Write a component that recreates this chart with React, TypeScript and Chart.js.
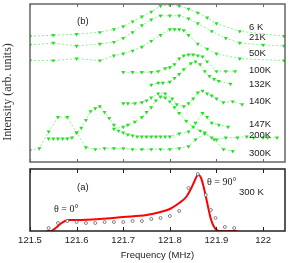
import React, { useEffect, useRef } from "react";
import { Chart, registerables } from "chart.js";

Chart.register(...registerables);

// ---------- axis ----------
const X_MIN = 121.5;
const X_MAX = 122.047;
const X_TICKS = [121.5, 121.6, 121.7, 121.8, 121.9, 122.0];
const X_TICK_LABELS = ["121.5", "121.6", "121.7", "121.8", "121.9", "122"];

// ---------- panel (b): spectra at several temperatures (offset, arb. units) ----------
const SERIES_NAMES = ["6 K", "21K", "50K", "100K", "132K", "140K", "147K", "200K", "300K"];

const F_6K = [121.50, 121.55, 121.60, 121.65, 121.68, 121.70, 121.72, 121.74, 121.76, 121.78, 121.80, 121.82, 121.84, 121.86, 121.88, 121.90, 121.95, 122.045];
const I_6K = [129, 130, 131, 133, 136, 139, 144, 149, 154, 160, 161, 160, 157, 153, 148, 142, 134, 129];

const F_21K = [121.50, 121.55, 121.60, 121.65, 121.68, 121.70, 121.72, 121.74, 121.76, 121.78, 121.80, 121.82, 121.84, 121.86, 121.89, 121.92, 121.95, 122.00, 122.045];
const I_21K = [120, 122, 119, 121, 123, 127, 133, 140, 146, 150, 150, 150, 147, 142, 134, 127, 122, 120, 119];

const F_50K = [121.50, 121.55, 121.60, 121.65, 121.68, 121.70, 121.72, 121.74, 121.76, 121.78, 121.80, 121.81, 121.82, 121.83, 121.84, 121.86, 121.88, 121.90, 121.95, 122.045];
const I_50K = [104, 104, 106, 104, 109, 111, 114, 118, 124, 130, 136, 136, 136, 135, 130, 121, 116, 111, 106, 104];

const F_100K = [121.70, 121.72, 121.74, 121.76, 121.775, 121.79, 121.80, 121.81, 121.82, 121.83, 121.84, 121.85, 121.86, 121.87, 121.88, 121.90, 121.92, 121.94];
const I_100K = [92, 92, 92, 92, 93, 96, 97, 100, 106, 109, 110, 110, 109, 108, 103, 93, 93, 93];

const F_132K = [121.76, 121.775, 121.785, 121.80, 121.81, 121.82, 121.83, 121.845, 121.855, 121.865, 121.875, 121.885, 121.895, 121.905, 121.93];
const I_132K = [79, 81, 81, 82, 86, 90, 95, 101, 103, 100, 93, 88, 85, 83, 80];

const F_140K = [121.70, 121.71, 121.725, 121.74, 121.75, 121.76, 121.775, 121.79, 121.805, 121.815, 121.83, 121.84, 121.85, 121.86, 121.87, 121.88, 121.89, 121.90, 121.915, 121.935, 121.955];
const I_140K = [60, 60, 60, 61, 63, 66, 70, 70, 65, 59, 57, 60, 65, 71, 73, 70, 68, 65, 61, 62, 59];

const F_147K = [121.54, 121.55, 121.56, 121.57, 121.58, 121.59, 121.60, 121.61, 121.62, 121.63, 121.64, 121.65, 121.66, 121.67, 121.68, 121.69, 121.70, 121.71, 121.72, 121.73, 121.74, 121.75, 121.76, 121.77, 121.78, 121.79, 121.80, 121.82, 121.84, 121.855, 121.87, 121.88, 121.89, 121.905, 121.925];
const I_147K = [24, 24, 24, 24, 24, 25, 30, 35, 43, 52, 55, 57, 51, 45, 38, 32, 30, 28, 27, 26, 26, 26, 26, 26, 26, 26, 26, 29, 31, 40, 50, 46, 40, 38, 36];

const F_200K = [121.68, 121.70, 121.71, 121.725, 121.74, 121.75, 121.76, 121.77, 121.78, 121.79, 121.80, 121.81, 121.82, 121.835, 121.85, 121.865, 121.875, 121.89, 121.90, 121.92, 121.945, 121.965, 121.98, 122.00, 122.01, 122.03];
const I_200K = [34, 36, 38, 41, 46, 51, 56, 63, 67, 66, 62, 56, 50, 42, 36, 32, 30, 25, 23, 25, 25, 26, 25, 25, 25, 25];

const F_300K = [121.50, 121.52, 121.54, 121.56, 121.58, 121.60, 121.62, 121.64, 121.66, 121.68, 121.70, 121.72, 121.74, 121.76, 121.78, 121.80, 121.82, 121.84, 121.855, 121.875, 121.895, 121.915, 121.935];
const I_300K = [12, 14, 31, 46, 46, 30, 15, 13, 14, 14, 14, 13, 13, 13, 13, 13, 14, 16, 23, 29, 23, 13, 11];

const SERIES_F = [F_6K, F_21K, F_50K, F_100K, F_132K, F_140K, F_147K, F_200K, F_300K];
const SERIES_I = [I_6K, I_21K, I_50K, I_100K, I_132K, I_140K, I_147K, I_200K, I_300K];

// ---------- panel (a): 300 K spectrum, simulation (line) and data (circles) ----------
const SIM_F = [121.535, 121.545, 121.555, 121.565, 121.575, 121.585, 121.60, 121.65, 121.70, 121.75, 121.78, 121.80, 121.82, 121.835, 121.845, 121.852, 121.858, 121.862, 121.867, 121.872, 121.877, 121.882, 121.888, 121.895, 121.905, 121.945];
const SIM_I = [0, 0, 3, 7, 10, 11, 11, 12, 14, 16, 19, 22, 28, 34, 42, 49, 55, 56, 53, 45, 35, 24, 12, 4, 0, 0];

const EXP_F = [121.54, 121.56, 121.58, 121.60, 121.62, 121.64, 121.66, 121.68, 121.70, 121.72, 121.74, 121.76, 121.78, 121.80, 121.82, 121.84, 121.86, 121.877, 121.888, 121.898, 121.918, 121.938];
const EXP_I = [3, 8, 10, 9, 8, 8, 9, 9, 9, 10, 10, 12, 13, 15, 20, 43, 57, 36, 21, 13, 4, 3];

// ---------- layout (not data) ----------
const SANS = "'Liberation Sans', Arial, Helvetica, sans-serif";
const SERIF = "'Liberation Serif', 'Times New Roman', serif";
const LABEL_X = 249;
const LABEL_Y = [27.5, 37, 53, 70, 84, 101, 124, 135, 153];

const zip = (f: number[], v: number[]) => f.map((x, i) => ({ x, y: v[i] }));

function framePlugin(color: string, width: number, tickLen: number, topTicks: boolean, bottomTicks: boolean) {
  return {
    id: "frame",
    afterDraw(chart: any) {
      const { ctx, chartArea } = chart;
      const { left, right, top, bottom } = chartArea;
      const xs = chart.scales.x;
      ctx.save();
      ctx.strokeStyle = color;
      ctx.lineWidth = width;
      ctx.strokeRect(left, top, right - left, bottom - top);
      ctx.lineWidth = 1;
      ctx.beginPath();
      for (const v of X_TICKS) {
        const px = Math.round(xs.getPixelForValue(v)) + 0.5;
        if (bottomTicks) {
          ctx.moveTo(px, bottom);
          ctx.lineTo(px, bottom - tickLen);
        }
        if (topTicks) {
          ctx.moveTo(px, top);
          ctx.lineTo(px, top + tickLen);
        }
      }
      ctx.stroke();
      ctx.restore();
    },
  };
}

const topTextPlugin = {
  id: "topText",
  afterDraw(chart: any) {
    const { ctx } = chart;
    ctx.save();
    ctx.fillStyle = "#222";
    ctx.textBaseline = "middle";
    ctx.textAlign = "left";
    ctx.font = `9.5px ${SANS}`;
    SERIES_NAMES.forEach((n, i) => ctx.fillText(n, LABEL_X, LABEL_Y[i]));
    ctx.fillText("(b)", 77, 21);
    ctx.translate(8, 92);
    ctx.rotate(-Math.PI / 2);
    ctx.textAlign = "center";
    ctx.font = `12px ${SERIF}`;
    ctx.fillStyle = "#333";
    ctx.fillText("Intensity (arb. units)", 0, 0);
    ctx.restore();
  },
};

const bottomTextPlugin = {
  id: "bottomText",
  afterDraw(chart: any) {
    const { ctx } = chart;
    ctx.save();
    ctx.fillStyle = "#222";
    ctx.textBaseline = "middle";
    ctx.textAlign = "left";
    ctx.font = `9.5px ${SANS}`;
    ctx.fillText("(a)", 77, 27);
    ctx.fillText("300 K", 239, 32);
    ctx.font = `10px ${SERIF}`;
    ctx.fillText("\u03b8 = 0\u00b0", 54, 49);
    ctx.fillText("\u03b8 = 90\u00b0", 207, 22);
    ctx.restore();
  },
};

export default function App() {
  const topRef = useRef<HTMLCanvasElement>(null);
  const botRef = useRef<HTMLCanvasElement>(null);

  useEffect(() => {
    const topChart = new Chart(topRef.current as HTMLCanvasElement, {
      type: "scatter",
      data: {
        datasets: SERIES_NAMES.map((name, i) => ({
          label: name,
          data: zip(SERIES_F[i], SERIES_I[i]),
          showLine: true,
          borderColor: "rgba(130,240,130,0.9)",
          borderWidth: 1,
          borderDash: [2, 2],
          pointStyle: "triangle",
          rotation: 180,
          pointRadius: 2.3,
          pointBackgroundColor: "#22e022",
          pointBorderColor: "#22e022",
          pointBorderWidth: 0,
        })),
      },
      options: {
        animation: false,
        responsive: true,
        maintainAspectRatio: false,
        layout: { padding: { left: 30, right: 15, top: 1, bottom: 3 } },
        plugins: { legend: { display: false }, tooltip: { enabled: false } },
        scales: {
          x: { type: "linear", min: X_MIN, max: X_MAX, display: false },
          y: { type: "linear", min: 0, max: 162, display: false },
        },
      },
      plugins: [framePlugin("#666", 1.5, 3, true, true), topTextPlugin],
    } as any);

    const botChart = new Chart(botRef.current as HTMLCanvasElement, {
      type: "scatter",
      data: {
        datasets: [
          {
            label: "simulation",
            data: zip(SIM_F, SIM_I),
            showLine: true,
            borderColor: "#ff0000",
            borderWidth: 2,
            pointRadius: 0,
            cubicInterpolationMode: "monotone",
            order: 2,
          },
          {
            label: "data",
            data: zip(EXP_F, EXP_I),
            showLine: false,
            pointStyle: "circle",
            pointRadius: 1.5,
            pointBackgroundColor: "#ffffff",
            pointBorderColor: "#666",
            pointBorderWidth: 0.8,
            order: 1,
          },
        ],
      },
      options: {
        animation: false,
        responsive: true,
        maintainAspectRatio: false,
        layout: { padding: { left: 30, right: 15, top: 9, bottom: 0 } },
        plugins: { legend: { display: false }, tooltip: { enabled: false } },
        scales: {
          x: {
            type: "linear",
            min: X_MIN,
            max: X_MAX,
            afterBuildTicks: (s: any) => {
              s.ticks = X_TICKS.map((v) => ({ value: v }));
            },
            afterFit: (s: any) => {
              s.height = 32;
            },
            grid: { display: false, drawTicks: false },
            border: { display: false },
            ticks: {
              autoSkip: false,
              maxRotation: 0,
              padding: 4,
              color: "#222",
              font: { family: SANS, size: 9.5 },
              callback: (v: any) => {
                const i = X_TICKS.findIndex((t) => Math.abs(t - Number(v)) < 1e-6);
                return i >= 0 ? X_TICK_LABELS[i] : "";
              },
            },
            title: {
              display: true,
              text: "Frequency (MHz)",
              color: "#222",
              font: { family: SANS, size: 9.5 },
              padding: { top: 1, bottom: 2 },
            },
          },
          y: { type: "linear", min: 0, max: 62, display: false },
        },
      },
      plugins: [framePlugin("#222", 1.5, 4, true, true), bottomTextPlugin],
    } as any);

    return () => {
      topChart.destroy();
      botChart.destroy();
    };
  }, []);

  return (
    <div style={{ position: "fixed", left: 0, top: 0, width: 300, height: 263, background: "#fff" }}>
      <div style={{ position: "absolute", left: 0, top: 0, width: 300, height: 166 }}>
        <canvas ref={topRef} />
      </div>
      <div style={{ position: "absolute", left: 0, top: 160, width: 300, height: 103 }}>
        <canvas ref={botRef} />
      </div>
    </div>
  );
}
